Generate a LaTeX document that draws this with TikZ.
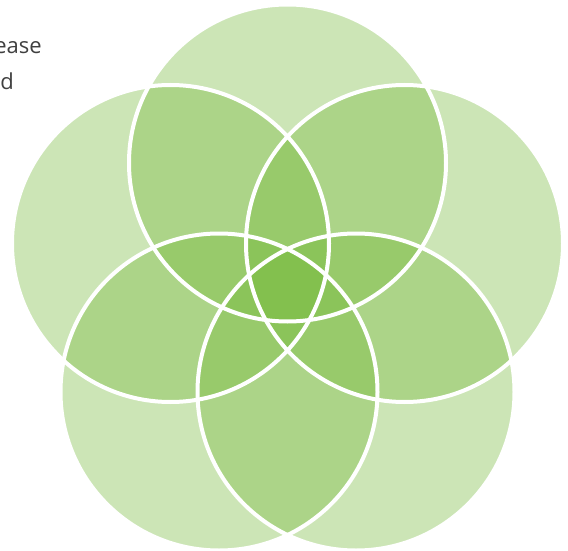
\documentclass[tikz,border=0pt]{standalone}
\usepackage{fontspec}
\setmainfont{Open Sans}
\definecolor{petal}{RGB}{118,185,59}
\definecolor{txtgray}{RGB}{64,64,64}
\tikzset{
  petalfill/.style={fill=petal, fill opacity=0.373, draw=none},
  petalline/.style={draw=white, line width=4pt, fill=none},
  label/.style={text=txtgray, inner sep=0pt, font=\fontsize{22pt}{26pt}\selectfont}
}
\begin{document}
\begin{tikzpicture}[x=1pt,y=-1pt]
\useasboundingbox (0,0) rectangle (568,551);
\clip (0,0) rectangle (568,551);
% text behind the flower
\node[label, anchor=base east] (t1) at (42,54) {ease};
\node[label, anchor=base east] (t2) at (14,89) {d};
% circle centres
\coordinate (cT)  at (287.5,163);
\coordinate (cUL) at (170.5,243.5);
\coordinate (cUR) at (404.5,243.5);
\coordinate (cLL) at (219,392);
\coordinate (cLR) at (356,392);
% fills
\foreach \c in {cT,cUL,cUR,cLL,cLR}
  \fill[petalfill] (\c) circle[radius=158.5];
% white outlines
\foreach \c in {cT,cUL,cUR,cLL,cLR}
  \draw[petalline] (\c) circle[radius=158.5];
\end{tikzpicture}
\end{document}
